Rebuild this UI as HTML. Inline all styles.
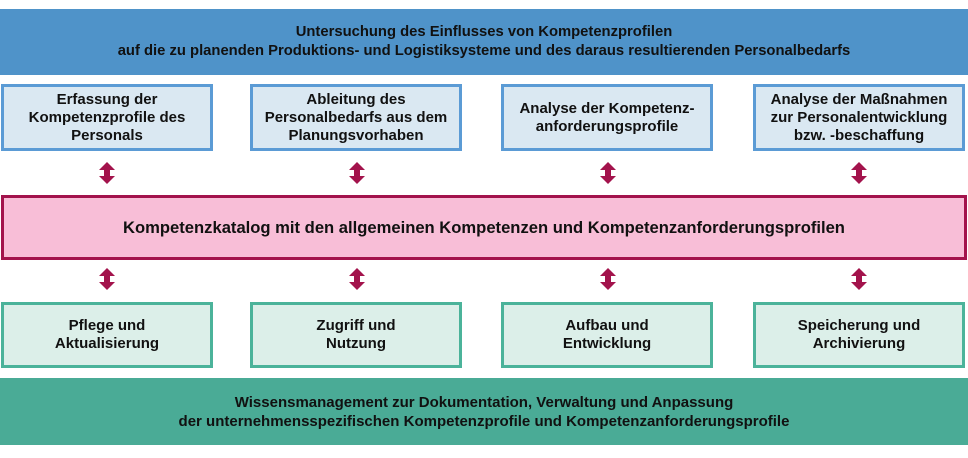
<!DOCTYPE html>
<html><head><meta charset="utf-8"><style>
body{margin:0;width:968px;height:458px;background:#fff;position:relative;font-family:"Liberation Sans",Arial,sans-serif;font-weight:bold;color:#111;overflow:hidden}
.b{position:absolute;display:flex;align-items:center;justify-content:center;text-align:center;box-sizing:border-box;font-size:15px;line-height:18px}
.top{left:0;top:9px;width:968px;height:66px;background:#4f93c9;font-size:14.8px;line-height:19px}
.bot{left:0;top:378px;width:968px;height:67px;background:#4aab96;font-size:15px;line-height:19px}
.r1{top:84px;height:67px;width:212px;background:#dae8f2;border:3px solid #5b9bd5}
.r2{top:302px;height:66px;width:212px;background:#dcefe9;border:3px solid #4bb39a}
.pk{left:1px;top:195px;width:966px;height:65px;background:#f8bed7;border:3px solid #a3134c;font-size:16.6px}
svg{position:absolute}
</style></head><body>
<div class="b top">Untersuchung des Einflusses von Kompetenzprofilen<br>auf die zu planenden Produktions- und Logistiksysteme und des daraus resultierenden Personalbedarfs</div>
<div class="b r1" style="left:1px">Erfassung der<br>Kompetenzprofile des<br>Personals</div>
<div class="b r1" style="left:250px">Ableitung des<br>Personalbedarfs aus dem<br>Planungsvorhaben</div>
<div class="b r1" style="left:501px">Analyse der Kompetenz-<br>anforderungsprofile</div>
<div class="b r1" style="left:753px">Analyse der Maßnahmen<br>zur Personalentwicklung<br>bzw. -beschaffung</div>
<div class="b pk">Kompetenzkatalog mit den allgemeinen Kompetenzen und Kompetenzanforderungsprofilen</div>
<div class="b r2" style="left:1px">Pflege und<br>Aktualisierung</div>
<div class="b r2" style="left:250px">Zugriff und<br>Nutzung</div>
<div class="b r2" style="left:501px">Aufbau und<br>Entwicklung</div>
<div class="b r2" style="left:753px">Speicherung und<br>Archivierung</div>
<div class="b bot">Wissensmanagement zur Dokumentation, Verwaltung und Anpassung<br>der unternehmensspezifischen Kompetenzprofile und Kompetenzanforderungsprofile</div>
<svg width="968" height="458" viewBox="0 0 968 458">
<defs><path id="a" d="M0 0 L8 8 L3 8 L3 14 L8 14 L0 22 L-8 14 L-3 14 L-3 8 L-8 8 Z" fill="#a3134c"/></defs>
<use href="#a" x="107" y="162"/><use href="#a" x="357" y="162"/><use href="#a" x="608" y="162"/><use href="#a" x="859" y="162"/>
<use href="#a" x="107" y="268"/><use href="#a" x="357" y="268"/><use href="#a" x="608" y="268"/><use href="#a" x="859" y="268"/>
</svg>
</body></html>
